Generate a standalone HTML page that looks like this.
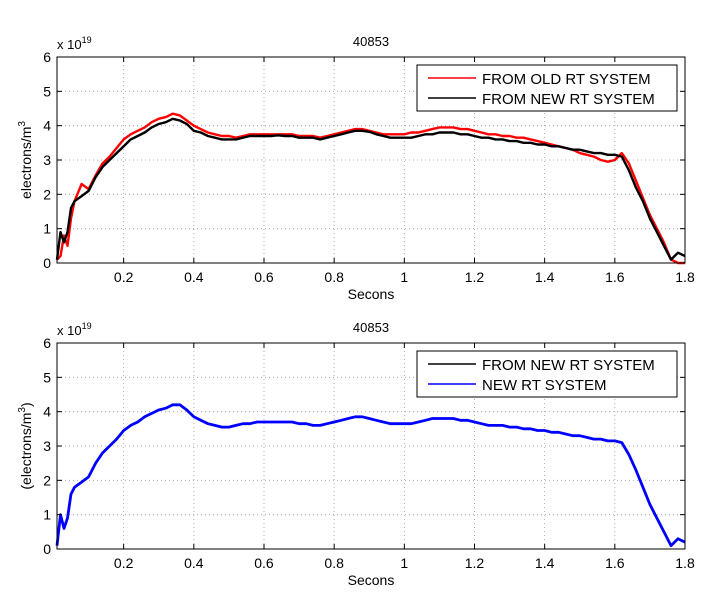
<!DOCTYPE html>
<html><head><meta charset="utf-8"><style>
body{margin:0;background:#fff;}
svg{display:block;font-family:"Liberation Sans",Arial,sans-serif;}
</style></head><body>
<svg id="chart" width="713" height="601" viewBox="0 0 713 601"></svg>
<script>
const times=[0.01,0.02,0.03,0.04,0.05,0.06,0.08,0.10,0.12,0.14,0.16,0.18,0.20,0.22,0.24,0.26,0.28,0.30,0.32,0.34,0.36,0.38,0.40,0.42,0.44,0.46,0.48,0.50,0.52,0.54,0.56,0.58,0.60,0.62,0.64,0.66,0.68,0.70,0.72,0.74,0.76,0.78,0.80,0.82,0.84,0.86,0.88,0.90,0.92,0.94,0.96,0.98,1.00,1.02,1.04,1.06,1.08,1.10,1.12,1.14,1.16,1.18,1.20,1.22,1.24,1.26,1.28,1.30,1.32,1.34,1.36,1.38,1.40,1.42,1.44,1.46,1.48,1.50,1.52,1.54,1.56,1.58,1.60,1.62,1.64,1.66,1.68,1.70,1.72,1.74,1.76,1.78,1.80];
const newRT=[0.1,0.9,0.6,0.9,1.6,1.8,1.95,2.1,2.5,2.8,3.0,3.2,3.4,3.6,3.7,3.8,3.95,4.05,4.1,4.2,4.15,4.05,3.85,3.8,3.7,3.65,3.6,3.6,3.6,3.65,3.7,3.7,3.7,3.7,3.72,3.7,3.7,3.65,3.65,3.65,3.6,3.65,3.7,3.75,3.8,3.85,3.85,3.82,3.75,3.7,3.65,3.65,3.65,3.65,3.7,3.75,3.75,3.8,3.8,3.8,3.75,3.75,3.7,3.65,3.65,3.6,3.6,3.55,3.55,3.5,3.5,3.45,3.45,3.4,3.4,3.35,3.3,3.3,3.25,3.2,3.2,3.15,3.15,3.1,2.7,2.2,1.8,1.3,0.9,0.5,0.1,0.3,0.2];
const oldRT=[0.1,0.2,0.8,0.5,1.3,1.8,2.3,2.15,2.55,2.9,3.1,3.35,3.6,3.75,3.85,3.95,4.1,4.2,4.25,4.35,4.3,4.15,4.0,3.9,3.8,3.75,3.7,3.7,3.65,3.7,3.75,3.75,3.75,3.75,3.75,3.75,3.75,3.7,3.7,3.7,3.65,3.7,3.75,3.8,3.85,3.9,3.9,3.85,3.8,3.75,3.75,3.75,3.75,3.8,3.8,3.85,3.9,3.95,3.95,3.95,3.9,3.9,3.85,3.8,3.75,3.75,3.7,3.7,3.65,3.65,3.6,3.55,3.5,3.45,3.4,3.35,3.3,3.2,3.15,3.1,3.0,2.95,3.0,3.2,2.9,2.4,1.9,1.4,1.0,0.6,0.1,0.0,0.0];
const blueRT=[0.1,1.0,0.6,0.9,1.6,1.8,1.95,2.1,2.5,2.8,3.0,3.2,3.45,3.6,3.7,3.85,3.95,4.05,4.1,4.2,4.2,4.05,3.85,3.75,3.65,3.6,3.55,3.55,3.6,3.65,3.65,3.7,3.7,3.7,3.7,3.7,3.7,3.65,3.65,3.6,3.6,3.65,3.7,3.75,3.8,3.85,3.85,3.8,3.75,3.7,3.65,3.65,3.65,3.65,3.7,3.75,3.8,3.8,3.8,3.8,3.75,3.75,3.7,3.65,3.6,3.6,3.6,3.55,3.55,3.5,3.5,3.45,3.45,3.4,3.4,3.35,3.3,3.3,3.25,3.2,3.2,3.15,3.15,3.1,2.75,2.3,1.8,1.3,0.9,0.5,0.1,0.3,0.2];
const xTicks=[0.2,0.4,0.6,0.8,1,1.2,1.4,1.6,1.8];
const xTickLabels=["0.2","0.4","0.6","0.8","1","1.2","1.4","1.6","1.8"];
const yTicks=[0,1,2,3,4,5,6];

const NS="http://www.w3.org/2000/svg";
const svg=document.getElementById('chart');
function mk(tag,attrs,parent){const e=document.createElementNS(NS,tag);for(const k in attrs)e.setAttribute(k,attrs[k]);(parent||svg).appendChild(e);return e;}
const L=57,R=685,XMIN=0.01,XMAX=1.8;
function sx(v){return L+(v-XMIN)/(XMAX-XMIN)*(R-L);}

function panel(top,bottom,ylabel,series,legend,pname){
  const g=mk('g',{});
  
  
  const sy=v=>bottom-v/6*(bottom-top);
  xTicks.forEach(t=>{if(t<XMAX){const l=mk('line',{x1:sx(t),x2:sx(t),y1:top,y2:bottom,stroke:'#999','stroke-width':0.8,'stroke-dasharray':'1,3'},g);}});
  yTicks.forEach(t=>{if(t>0&&t<6){const l=mk('line',{x1:L,x2:R,y1:sy(t),y2:sy(t),stroke:'#999','stroke-width':0.8,'stroke-dasharray':'1,3'},g);}});
  series.forEach(s=>{
    const d=times.map((t,i)=>(i?'L':'M')+sx(t).toFixed(1)+','+sy(s.vals[i]).toFixed(1)).join('');
    const p=mk('path',{d:d,fill:'none',stroke:s.color,'stroke-width':s.w,'stroke-linejoin':'round'},g);
    
    
  });
  const box=mk('rect',{x:L,y:top,width:R-L,height:bottom-top,fill:'none',stroke:'#000','stroke-width':1},g);
  
  
  xTicks.forEach((t,i)=>{
    mk('line',{x1:sx(t),x2:sx(t),y1:bottom,y2:bottom-5,stroke:'#000'},g);
    mk('line',{x1:sx(t),x2:sx(t),y1:top,y2:top+5,stroke:'#000'},g);
    const tx=mk('text',{x:sx(t),y:bottom+19,'font-size':14,'text-anchor':'middle'},g);
    tx.textContent=xTickLabels[i];
    
    
  });
  yTicks.forEach(t=>{
    mk('line',{x1:L,x2:L+5,y1:sy(t),y2:sy(t),stroke:'#000'},g);
    mk('line',{x1:R,x2:R-5,y1:sy(t),y2:sy(t),stroke:'#000'},g);
    const tx=mk('text',{x:L-6,y:sy(t)+5,'font-size':14,'text-anchor':'end'},g);
    tx.textContent=String(t);
    
    
  });
  const xl=mk('text',{x:(L+R)/2,y:bottom+36,'font-size':14,'text-anchor':'middle'},g);
  xl.textContent='Secons';
  
  
  const ti=mk('text',{x:(L+R)/2,y:top-11,'font-size':13,'text-anchor':'middle'},g);
  ti.textContent='40853';
  
  
  const ex=mk('text',{x:L,y:top-8,'font-size':13},g);
  ex.innerHTML='x 10<tspan dy="-6" font-size="9">19</tspan>';
  
  
  const cy=(top+bottom)/2;
  const yl=mk('text',{x:0,y:0,'font-size':14,'text-anchor':'middle',transform:'translate(31,'+cy+') rotate(-90)'},g);
  yl.innerHTML=ylabel;
  
  
  const lg=mk('g',{},g);
  
  
  mk('rect',{x:417,y:top+8,width:260,height:46,fill:'#fff',stroke:'#000','stroke-width':1},lg);
  legend.forEach((e,i)=>{
    const y=top+21+i*20;
    const ln=mk('line',{x1:428,x2:476,y1:y,y2:y,stroke:e.color,'stroke-width':e.w},lg);
    
    
    const tx=mk('text',{x:482,y:y+6,'font-size':15},lg);
    tx.textContent=e.label;
    
    
  });
}
panel(57,263,'electrons/m<tspan dy="-6" font-size="10">3</tspan>',
  [{vals:oldRT,color:'#ff0000',w:2.4,name:'series-old-rt'},{vals:newRT,color:'#000',w:2.4,name:'series-new-rt'}],
  [{color:'#ff0000',w:1.5,label:'FROM OLD RT SYSTEM'},{color:'#000',w:1.5,label:'FROM NEW RT SYSTEM'}],'top-panel');
panel(343,549,'(electrons/m<tspan dy="-6" font-size="10">3</tspan><tspan dy="6">)</tspan>',
  [{vals:blueRT,color:'#0000ff',w:2.8,name:'series-new-rt-system'}],
  [{color:'#000',w:1.5,label:'FROM NEW RT SYSTEM'},{color:'#0000ff',w:1.5,label:'NEW RT SYSTEM'}],'bottom-panel');
</script>
</body></html>
